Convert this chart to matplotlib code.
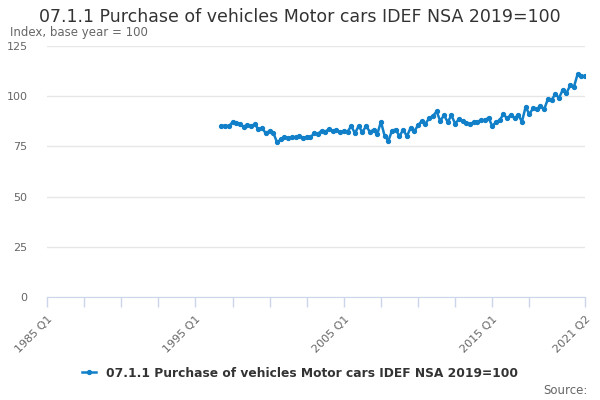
import matplotlib
matplotlib.use("Agg")
import matplotlib.pyplot as plt
from matplotlib.lines import Line2D

# quarterly categories 1985 Q1 .. 2021 Q2
quarters = [f"{y} Q{q}" for y in range(1985, 2022) for q in range(1, 5)][:146]
start_idx = quarters.index("1996 Q4")

values = [
    85.3,
    85.3, 85.1, 87.0, 86.5,   # 1997
    86.2, 84.8, 85.7, 85.2,   # 1998
    86.0, 83.5, 84.0, 81.5,   # 1999
    82.8, 81.8, 77.0, 78.5,   # 2000
    79.5, 79.3, 79.5, 79.5,   # 2001
    80.3, 79.0, 79.8, 79.5,   # 2002
    81.5, 81.2, 82.8, 82.3,   # 2003
    83.7, 82.6, 83.2, 82.0,   # 2004
    82.8, 82.3, 85.2, 81.5,   # 2005
    85.2, 82.0, 85.2, 82.3,   # 2006
    83.2, 81.0, 87.3, 80.2,   # 2007
    77.8, 82.9, 83.4, 80.0,   # 2008
    83.4, 80.0, 84.3, 82.5,   # 2009
    85.5, 87.6, 86.3, 89.0,   # 2010
    90.1, 92.4, 87.6, 90.6,   # 2011
    87.1, 90.5, 86.3, 88.5,   # 2012
    87.6, 86.8, 86.0, 87.1,   # 2013
    87.3, 88.0, 88.0, 89.3,   # 2014
    85.1, 87.1, 88.0, 91.0,   # 2015
    89.0, 90.7, 89.0, 90.7,   # 2016
    87.3, 94.7, 91.0, 94.0,   # 2017
    93.5, 95.2, 93.5, 98.6,   # 2018
    98.1, 101.1, 99.1, 103.2, # 2019
    101.5, 105.4, 104.5, 111.0,  # 2020
    109.9, 110.0,             # 2021
]
xpos = list(range(start_idx, start_idx + len(values)))

tick_idx = list(range(0, 131, 10)) + [145]
label_idx = [0, 40, 80, 120, 145]
yticks = [0, 25, 50, 75, 100, 125]

series_name = "07.1.1 Purchase of vehicles Motor cars IDEF NSA 2019=100"
blue = "#1180c8"
grey = "#666666"

fig = plt.figure(figsize=(6, 4), dpi=100)
ax = fig.add_axes([0.0783, 0.2575, 0.8967, 0.6275])

ax.plot(xpos, values, color=blue, lw=1.8, marker="o", ms=2.8, zorder=3)

ax.set_xlim(0, 145)
ax.set_ylim(0, 125)
ax.set_yticks(yticks)
ax.set_yticklabels([str(v) for v in yticks], color=grey, fontsize=8)
ax.grid(axis="y", color="#e6e6e6", lw=1)
ax.set_axisbelow(True)

ax.set_xticks(tick_idx)
ax.set_xticklabels([quarters[i] if i in label_idx else "" for i in tick_idx],
                   rotation=45, ha="right", rotation_mode="anchor",
                   color=grey, fontsize=8)
ax.tick_params(axis="x", length=7, color="#ccd6eb", width=1, pad=5)
ax.tick_params(axis="y", length=0, pad=14)

for s in ["top", "right", "left"]:
    ax.spines[s].set_visible(False)
ax.spines["bottom"].set_color("#ccd6eb")

fig.text(0.5, 0.958, series_name, ha="center", va="center",
         fontsize=12.5, color="#333333")
fig.text(0.017, 0.918, "Index, base year = 100", ha="left", va="center",
         fontsize=8.5, color=grey)

handle = Line2D([], [], color=blue, lw=1.8, marker="o", ms=2.8)
fig.legend([handle], [series_name], loc="center", bbox_to_anchor=(0.5, 0.067),
           frameon=False, handlelength=1.2, labelcolor="#333333",
           prop={"weight": "bold", "size": 8.8})
fig.text(0.98, 0.025, "Source:", ha="right", va="center", fontsize=8.5, color=grey)

plt.savefig("out.png", dpi=100)
